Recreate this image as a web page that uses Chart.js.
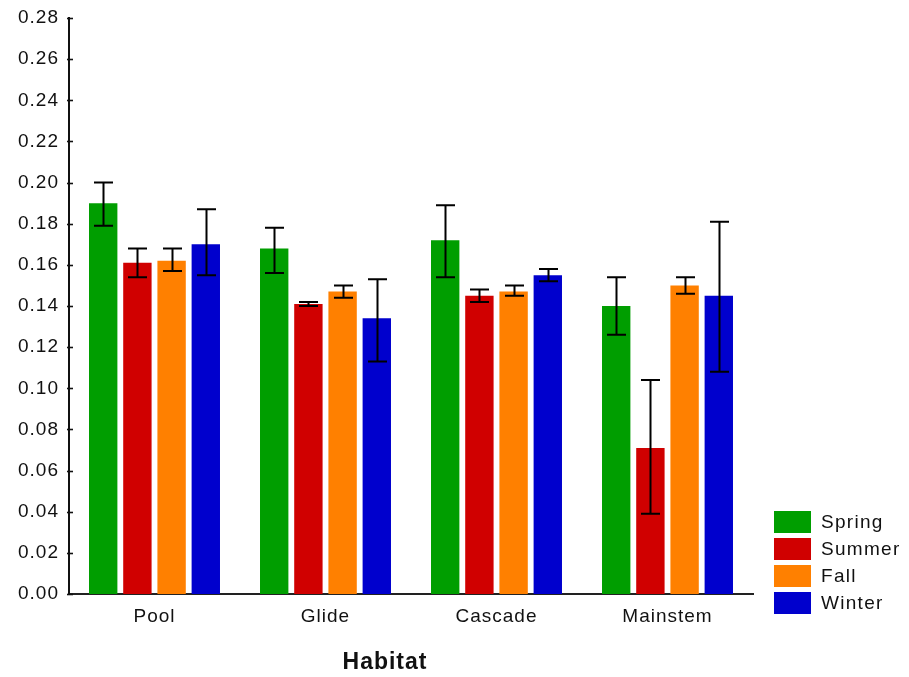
<!DOCTYPE html>
<html>
<head>
<meta charset="utf-8">
<script src="https://cdn.jsdelivr.net/npm/chart.js@4/dist/chart.umd.min.js"></script>
<style>
  html, body { margin: 0; padding: 0; background: #fff; }
  #wrap { width: 909px; height: 677px; }
</style>
</head>
<body>
<div id="wrap"><canvas id="habitatChart" width="909" height="677"></canvas></div>
<script>
// habitat means per season, with lower/upper error limits
const categories = ['Pool', 'Glide', 'Cascade', 'Mainstem'];
const seasons = ['Spring', 'Summer', 'Fall', 'Winter'];
const seasonColors = ['#009e00', '#d00000', '#ff8000', '#0000cd'];

const spring   = [0.190, 0.168, 0.172, 0.140];
const springLo = [0.179, 0.156, 0.154, 0.126];
const springHi = [0.200, 0.178, 0.189, 0.154];

const summer   = [0.161, 0.141, 0.145, 0.071];
const summerLo = [0.154, 0.140, 0.142, 0.039];
const summerHi = [0.168, 0.142, 0.148, 0.104];

const fall   = [0.162, 0.147, 0.147, 0.150];
const fallLo = [0.157, 0.144, 0.145, 0.146];
const fallHi = [0.168, 0.150, 0.150, 0.154];

const winter   = [0.170, 0.134, 0.155, 0.145];
const winterLo = [0.155, 0.113, 0.152, 0.108];
const winterHi = [0.187, 0.153, 0.158, 0.181];

const yTicks = [0, 0.02, 0.04, 0.06, 0.08, 0.10, 0.12, 0.14, 0.16, 0.18, 0.20, 0.22, 0.24, 0.26, 0.28];

const seriesValues = [spring, summer, fall, winter];
const seriesLo = [springLo, summerLo, fallLo, winterLo];
const seriesHi = [springHi, summerHi, fallHi, winterHi];

const FONT = '"Liberation Sans", Arial, sans-serif';

// wide text spacing, set before measuring and before drawing
const spacing = {
  id: 'spacing',
  beforeLayout(chart) { chart.ctx.letterSpacing = '1px'; },
  beforeDraw(chart) { chart.ctx.letterSpacing = '1px'; }
};

// short tick marks crossing the y axis
const yTickMarks = {
  id: 'yTickMarks',
  afterDraw(chart) {
    const ctx = chart.ctx, y = chart.scales.y, left = chart.chartArea.left;
    ctx.save();
    ctx.strokeStyle = '#111';
    ctx.lineWidth = 1.6;
    y.ticks.forEach(t => {
      const py = Math.round(y.getPixelForValue(t.value)) + 0.5;
      ctx.beginPath();
      ctx.moveTo(left - 2, py);
      ctx.lineTo(left + 4, py);
      ctx.stroke();
    });
    ctx.restore();
  }
};

// error bars with caps
const errorBars = {
  id: 'errorBars',
  afterDatasetsDraw(chart) {
    const ctx = chart.ctx, y = chart.scales.y;
    ctx.save();
    ctx.strokeStyle = '#000';
    ctx.lineWidth = 2;
    chart.data.datasets.forEach((ds, i) => {
      const meta = chart.getDatasetMeta(i);
      meta.data.forEach((bar, j) => {
        const x = Math.round(bar.x) + 0.5;
        const top = y.getPixelForValue(ds.errHi[j]);
        const bot = y.getPixelForValue(ds.errLo[j]);
        ctx.beginPath();
        ctx.moveTo(x, top); ctx.lineTo(x, bot);
        ctx.moveTo(x - 9.5, top); ctx.lineTo(x + 9.5, top);
        ctx.moveTo(x - 9.5, bot); ctx.lineTo(x + 9.5, bot);
        ctx.stroke();
      });
    });
    ctx.restore();
  }
};

// legend boxes at lower right and the x axis title
const sideLegend = {
  id: 'sideLegend',
  afterDraw(chart) {
    const ctx = chart.ctx, area = chart.chartArea;
    ctx.save();
    ctx.letterSpacing = '1.3px';
    const bx = area.right + 21;
    let by = 511;
    chart.data.datasets.forEach(ds => {
      ctx.fillStyle = ds.backgroundColor;
      ctx.fillRect(bx, by, 37, 22);
      ctx.fillStyle = '#111';
      ctx.font = '19px ' + FONT;
      ctx.textAlign = 'left';
      ctx.textBaseline = 'middle';
      ctx.fillText(ds.label, bx + 47, by + 12);
      by += 27;
    });
    ctx.letterSpacing = '1px';
    ctx.font = 'bold 23px ' + FONT;
    ctx.textAlign = 'center';
    ctx.fillText('Habitat', (area.left + area.right) / 2 - 26, 663);
    ctx.restore();
  }
};

new Chart(document.getElementById('habitatChart'), {
  type: 'bar',
  data: {
    labels: categories,
    datasets: seasons.map((s, i) => ({
      label: s,
      data: seriesValues[i],
      errLo: seriesLo[i],
      errHi: seriesHi[i],
      backgroundColor: seasonColors[i],
      borderWidth: 0,
      categoryPercentage: 0.8,
      barPercentage: 0.83
    }))
  },
  options: {
    responsive: false,
    animation: false,
    layout: { padding: { left: 0, right: 156, top: 18, bottom: 0 } },
    plugins: { legend: { display: false }, tooltip: { enabled: false } },
    scales: {
      x: {
        grid: { display: false },
        border: { display: true, color: '#222', width: 2 },
        ticks: { color: '#111', font: { family: FONT, size: 19 }, padding: 3 },
        afterFit: s => { s.height = 83; }
      },
      y: {
        min: 0,
        max: 0.28,
        afterBuildTicks: s => { s.ticks = yTicks.map(v => ({ value: v })); },
        grid: { display: false },
        border: { display: true, color: '#111', width: 2 },
        ticks: {
          color: '#111',
          font: { family: FONT, size: 19 },
          padding: 2,
          callback: v => v.toFixed(2)
        },
        afterFit: s => { s.width = 69; }
      }
    }
  },
  plugins: [spacing, errorBars, yTickMarks, sideLegend]
});
</script>
</body>
</html>
